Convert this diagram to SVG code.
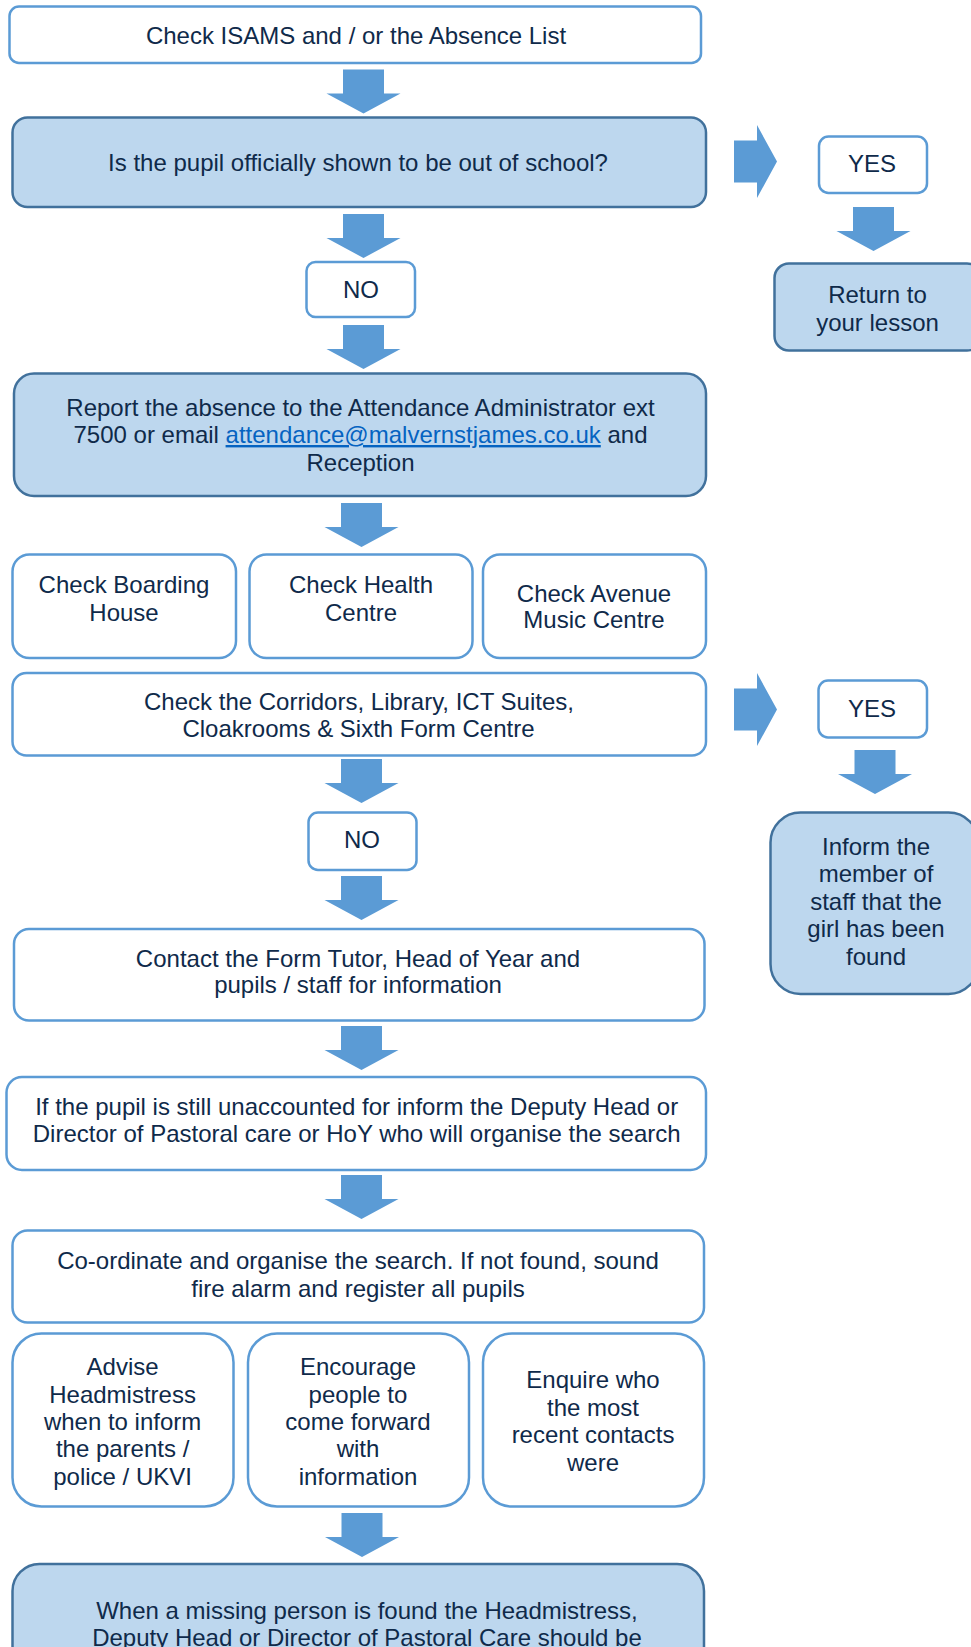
<svg xmlns="http://www.w3.org/2000/svg" width="971" height="1647" viewBox="0 0 971 1647">
<style>
  .w { fill: #ffffff; stroke: #5b9bd5; stroke-width: 2.5; }
  .b { fill: #bdd7ee; stroke: #41719c; stroke-width: 2.5; }
  .t { font-family: "Liberation Sans", Arial, sans-serif; font-size: 24px; fill: #0f2a4a; text-anchor: middle; }
  .a { fill: #5b9bd5; }
  .lnk { fill: #0563c1; text-decoration: underline; }
</style>
<defs>
  <path id="down" d="M-20.5,0 H20.5 V24 H37 L0,44 L-37,24 H-20.5 Z"/>
  <path id="right" d="M0,-21 H23 V-36.5 L43,0 L23,36.5 V21 H0 Z"/>
</defs>
<rect width="971" height="1647" fill="#ffffff"/>

<g id="connectors" class="a">
  <use href="#down" x="363.5" y="69.5"/>
  <use href="#right" x="734" y="161.5"/>
  <use href="#down" x="873.5" y="207"/>
  <use href="#down" x="363.5" y="214"/>
  <use href="#down" x="363.5" y="325"/>
  <use href="#down" x="361.5" y="503"/>
  <use href="#right" x="734" y="709.5"/>
  <use href="#down" x="875" y="750"/>
  <use href="#down" x="361.5" y="759"/>
  <use href="#down" x="361.5" y="876"/>
  <use href="#down" x="361.5" y="1026"/>
  <use href="#down" x="361.5" y="1175"/>
  <use href="#down" x="362" y="1513"/>
</g>

<g id="n-check-isams">
  <rect class="w" x="9.5" y="6.5" width="691.5" height="56.5" rx="9.5"/>
  <text class="t" x="356" y="43.5">Check ISAMS and / or the Absence List</text>
</g>
<g id="n-officially-out">
  <rect class="b" x="12.5" y="117.5" width="693.5" height="89.5" rx="15"/>
  <text class="t" x="358" y="171">Is the pupil officially shown to be out of school?</text>
</g>
<g id="n-yes1">
  <rect class="w" x="819" y="136.5" width="108" height="56.5" rx="9.5"/>
  <text class="t" x="872" y="171.5">YES</text>
</g>
<g id="n-return">
  <rect class="b" x="774.5" y="263.5" width="207" height="87" rx="14.5"/>
  <text class="t" x="877.5" y="302.7">Return to</text>
  <text class="t" x="877.5" y="330.7">your lesson</text>
</g>
<g id="n-no1">
  <rect class="w" x="306.5" y="262" width="108.5" height="55" rx="9"/>
  <text class="t" x="361" y="297.7">NO</text>
</g>
<g id="n-report">
  <rect class="b" x="14" y="373.5" width="692" height="122.5" rx="20"/>
  <text class="t" x="360.5" y="416">Report the absence to the Attendance Administrator ext</text>
  <text class="t" x="360.5" y="443">7500 or email <tspan class="lnk">attendance@malvernstjames.co.uk</tspan> and</text>
  <text class="t" x="360.5" y="470.5">Reception</text>
</g>
<g id="n-boarding">
  <rect class="w" x="12.5" y="554.5" width="223.5" height="103.5" rx="17"/>
  <text class="t" x="124" y="593">Check Boarding</text>
  <text class="t" x="124" y="620.5">House</text>
</g>
<g id="n-health">
  <rect class="w" x="249.5" y="554.5" width="223" height="103.5" rx="17"/>
  <text class="t" x="361" y="593">Check Health</text>
  <text class="t" x="361" y="620.5">Centre</text>
</g>
<g id="n-avenue">
  <rect class="w" x="483" y="554.5" width="223" height="103.5" rx="17"/>
  <text class="t" x="594" y="601.7">Check Avenue</text>
  <text class="t" x="594" y="628.3">Music Centre</text>
</g>
<g id="n-corridors">
  <rect class="w" x="12.5" y="673" width="693.5" height="82.5" rx="14"/>
  <text class="t" x="359" y="710">Check the Corridors, Library, ICT Suites,</text>
  <text class="t" x="358.5" y="737.3">Cloakrooms &amp; Sixth Form Centre</text>
</g>
<g id="n-yes2">
  <rect class="w" x="818.5" y="680.5" width="108.5" height="57" rx="9.5"/>
  <text class="t" x="872" y="716.7">YES</text>
</g>
<g id="n-inform">
  <rect class="b" x="770.5" y="812.5" width="208" height="181.5" rx="30"/>
  <text class="t" x="876" y="855">Inform the</text>
  <text class="t" x="876" y="882">member of</text>
  <text class="t" x="876" y="909.5">staff that the</text>
  <text class="t" x="876" y="937.3">girl has been</text>
  <text class="t" x="876" y="965">found</text>
</g>
<g id="n-no2">
  <rect class="w" x="308.5" y="812.5" width="108" height="57.5" rx="9.5"/>
  <text class="t" x="362" y="848.3">NO</text>
</g>
<g id="n-contact">
  <rect class="w" x="14" y="929" width="690.5" height="91.5" rx="15"/>
  <text class="t" x="358" y="966.7">Contact the Form Tutor, Head of Year and</text>
  <text class="t" x="358" y="993.3">pupils / staff for information</text>
</g>
<g id="n-unaccounted">
  <rect class="w" x="6.5" y="1077" width="699.5" height="93" rx="15.5"/>
  <text class="t" x="356.7" y="1115">If the pupil is still unaccounted for inform the Deputy Head or</text>
  <text class="t" x="356.7" y="1141.7">Director of Pastoral care or HoY who will organise the search</text>
</g>
<g id="n-coordinate">
  <rect class="w" x="12.5" y="1230.5" width="691.5" height="92" rx="15"/>
  <text class="t" x="358" y="1269.3">Co-ordinate and organise the search. If not found, sound</text>
  <text class="t" x="358" y="1296.7">fire alarm and register all pupils</text>
</g>
<g id="n-advise">
  <rect class="w" x="12.5" y="1333.5" width="221" height="173" rx="29"/>
  <text class="t" x="122.6" y="1375">Advise</text>
  <text class="t" x="122.6" y="1402.7">Headmistress</text>
  <text class="t" x="122.6" y="1430">when to inform</text>
  <text class="t" x="122.6" y="1457.3">the parents /</text>
  <text class="t" x="122.6" y="1485">police / UKVI</text>
</g>
<g id="n-encourage">
  <rect class="w" x="248" y="1333.5" width="221" height="173" rx="29"/>
  <text class="t" x="358" y="1375">Encourage</text>
  <text class="t" x="358" y="1402.7">people to</text>
  <text class="t" x="358" y="1430">come forward</text>
  <text class="t" x="358" y="1457.3">with</text>
  <text class="t" x="358" y="1485">information</text>
</g>
<g id="n-enquire">
  <rect class="w" x="483" y="1333.5" width="221" height="173" rx="29"/>
  <text class="t" x="593" y="1388.3">Enquire who</text>
  <text class="t" x="593" y="1415.7">the most</text>
  <text class="t" x="593" y="1443.3">recent contacts</text>
  <text class="t" x="593" y="1470.7">were</text>
</g>
<g id="n-found">
  <rect class="b" x="12.5" y="1564" width="691.5" height="160" rx="27"/>
  <text class="t" x="367" y="1619">When a missing person is found the Headmistress,</text>
  <text class="t" x="367" y="1646">Deputy Head or Director of Pastoral Care should be</text>
</g>
</svg>
